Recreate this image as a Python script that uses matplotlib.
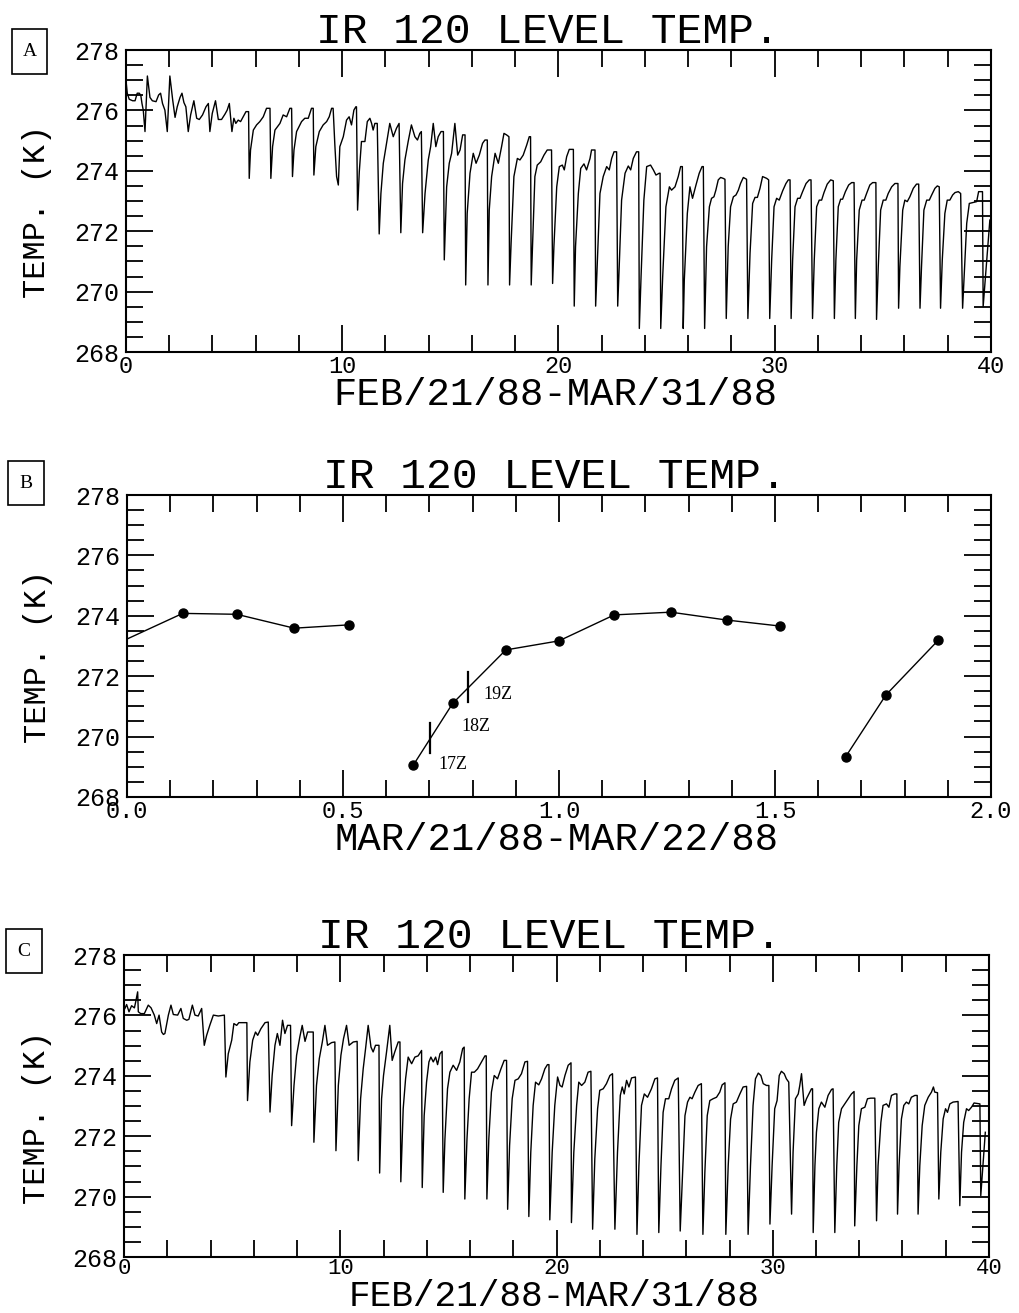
import matplotlib
matplotlib.use('Agg')
import matplotlib.pyplot as plt
from matplotlib.ticker import MultipleLocator
from matplotlib.patches import Rectangle

MONO = 'Liberation Mono'
SERIF = 'Liberation Serif'
plt.rcParams['font.family'] = [MONO, 'DejaVu Sans Mono']

TITLE = 'IR 120 LEVEL TEMP.'
YLABEL = 'TEMP. (K)'
XLABEL_AC = 'FEB/21/88-MAR/31/88'
XLABEL_B = 'MAR/21/88-MAR/22/88'
PANEL_LETTERS = ['A', 'B', 'C']

# panel A : days since Feb/21/88, temperature (K)
A_DAY = [
    0.00, 0.06, 0.15, 0.31, 0.42, 0.52, 0.62, 0.69, 0.74, 0.80, 0.88, 0.99,
    1.11, 1.22, 1.39, 1.51, 1.60, 1.69, 1.80, 1.91, 2.03, 2.16, 2.27, 2.37,
    2.50, 2.59, 2.68, 2.77, 2.88, 2.99, 3.14, 3.27, 3.39, 3.54, 3.70, 3.81,
    3.88, 3.99, 4.14, 4.27, 4.42, 4.58, 4.68, 4.78, 4.90, 4.99, 5.08, 5.19,
    5.30, 5.42, 5.55, 5.67,
    5.70, 5.76, 5.89, 6.04, 6.19, 6.35, 6.50, 6.66,
    6.70, 6.78, 6.89, 7.12, 7.27, 7.43, 7.58, 7.66,
    7.70, 7.77, 7.89, 8.12, 8.27, 8.43, 8.58, 8.66,
    8.69, 8.78, 8.94, 9.12, 9.28, 9.40, 9.51, 9.58, 9.66, 9.74,
    9.82, 9.89, 10.05, 10.20, 10.32, 10.43, 10.54, 10.63, 10.66,
    10.71, 10.79, 10.89, 11.05, 11.16, 11.28, 11.36, 11.43, 11.51, 11.62,
    11.71, 11.79, 11.90, 12.05, 12.20, 12.36, 12.51, 12.63,
    12.71, 12.79, 12.90, 13.05, 13.20, 13.36, 13.48, 13.59, 13.66,
    13.72, 13.83, 13.98, 14.09, 14.21, 14.33, 14.44, 14.57, 14.68,
    14.72, 14.83, 14.95, 15.06, 15.21, 15.34, 15.45, 15.57, 15.68,
    15.71, 15.78, 15.91, 16.06, 16.19, 16.34, 16.49, 16.60, 16.71,
    16.74, 16.80, 16.91, 17.07, 17.22, 17.37, 17.48, 17.60, 17.71,
    17.74, 17.81, 17.94, 18.10, 18.22, 18.37, 18.53, 18.65, 18.71,
    18.74, 18.81, 18.91, 19.02, 19.18, 19.33, 19.48, 19.68,
    19.73, 19.79, 19.92, 20.04, 20.18, 20.27, 20.38, 20.50, 20.69,
    20.73, 20.79, 20.92, 21.03, 21.18, 21.30, 21.46, 21.53, 21.69,
    21.72, 21.80, 21.92, 22.07, 22.23, 22.35, 22.46, 22.57, 22.69,
    22.74, 22.81, 22.92, 23.08, 23.23, 23.34, 23.46, 23.61, 23.71,
    23.74, 23.82, 23.95, 24.08, 24.26, 24.39, 24.51, 24.66, 24.70,
    24.73, 24.82, 24.97, 25.13, 25.23, 25.39, 25.54, 25.65, 25.73,
    25.77, 25.82, 25.96, 26.08, 26.20, 26.36, 26.51, 26.64, 26.70,
    26.76, 26.85, 26.98, 27.08, 27.19, 27.28, 27.39, 27.50, 27.62, 27.70,
    27.76, 27.85, 27.96, 28.09, 28.21, 28.32, 28.42, 28.55, 28.70,
    28.76, 28.86, 28.98, 29.09, 29.20, 29.32, 29.44, 29.63, 29.72,
    29.77, 29.86, 29.97, 30.09, 30.21, 30.37, 30.52, 30.63, 30.71,
    30.76, 30.83, 30.94, 31.06, 31.17, 31.29, 31.45, 31.60, 31.68,
    31.75, 31.83, 31.94, 32.06, 32.17, 32.28, 32.43, 32.59, 32.71,
    32.76, 32.83, 32.94, 33.05, 33.14, 33.27, 33.42, 33.56, 33.67,
    33.73, 33.79, 33.91, 34.04, 34.14, 34.25, 34.40, 34.53, 34.68,
    34.71, 34.79, 34.90, 35.02, 35.14, 35.25, 35.41, 35.56, 35.70,
    35.73, 35.79, 35.92, 36.02, 36.13, 36.25, 36.41, 36.56, 36.66,
    36.72, 36.79, 36.90, 37.03, 37.15, 37.26, 37.41, 37.52, 37.61,
    37.67, 37.75, 37.87, 37.98, 38.10, 38.23, 38.34, 38.49, 38.60,
    38.69, 38.88, 39.00, 39.34, 39.43, 39.61, 39.64, 39.95,
]
A_TEMP = [
    277.00, 276.57, 276.37, 276.32, 276.32, 276.57, 276.57, 276.48, 276.23, 276.01, 275.30, 277.14,
    276.43, 276.32, 276.29, 276.51, 276.57, 276.23, 276.01, 275.30, 277.14, 276.35, 275.77, 276.12,
    276.43, 276.57, 276.26, 276.12, 275.30, 275.85, 276.32, 275.74, 275.70, 275.85, 276.12, 276.23,
    275.30, 275.90, 276.32, 275.70, 275.70, 275.88, 276.01, 276.23, 275.30, 275.74, 275.57, 275.68,
    275.63, 275.79, 275.96, 275.96,
    273.75, 274.69, 275.35, 275.52, 275.63, 275.79, 276.07, 276.07,
    273.75, 274.80, 275.35, 275.57, 275.85, 275.79, 276.07, 276.07,
    273.81, 274.69, 275.30, 275.63, 275.74, 275.74, 276.07, 276.07,
    273.86, 274.80, 275.30, 275.52, 275.63, 275.79, 276.07, 276.07, 274.85, 273.81,
    273.53, 274.80, 275.13, 275.68, 275.79, 275.52, 276.01, 276.12, 276.12,
    272.70, 273.97, 274.97, 274.97, 275.63, 275.74, 275.57, 275.35, 275.57, 275.57,
    271.91, 273.25, 274.25, 274.91, 275.57, 275.13, 275.41, 275.57,
    271.95, 273.58, 274.36, 274.97, 275.52, 275.13, 275.02, 275.24, 275.30,
    271.95, 273.25, 274.36, 274.80, 275.57, 274.80, 275.13, 275.30, 275.30,
    271.05, 273.47, 274.25, 274.58, 275.57, 274.52, 274.69, 275.19, 275.19,
    270.22, 272.59, 273.92, 274.58, 274.25, 274.52, 274.91, 275.02, 275.02,
    270.22, 272.70, 273.81, 274.58, 274.25, 274.80, 275.24, 275.19, 275.13,
    270.22, 271.60, 273.81, 274.41, 274.36, 274.52, 274.85, 275.13, 275.13,
    270.22, 271.71, 273.81, 274.19, 274.30, 274.52, 274.69, 274.69,
    270.27, 271.49, 273.47, 274.14, 274.19, 274.03, 274.47, 274.71, 274.71,
    269.52, 271.49, 273.25, 274.08, 274.23, 274.03, 274.41, 274.69, 274.69,
    269.52, 271.05, 273.25, 273.81, 274.14, 274.03, 274.41, 274.63, 274.63,
    269.52, 270.83, 273.03, 273.92, 274.16, 274.03, 274.41, 274.63, 274.63,
    268.78, 270.49, 273.03, 274.14, 274.19, 274.03, 273.86, 273.92, 273.92,
    268.78, 270.49, 272.81, 273.47, 273.36, 273.47, 273.81, 274.14, 274.14,
    268.78, 270.38, 272.59, 273.47, 273.09, 273.53, 273.92, 274.14, 274.14,
    268.78, 271.49, 272.81, 273.09, 273.14, 273.36, 273.70, 273.78, 273.75, 273.72,
    269.11, 271.49, 272.81, 273.14, 273.20, 273.36, 273.58, 273.78, 273.72,
    269.11, 271.27, 272.92, 273.12, 273.12, 273.42, 273.81, 273.75, 273.70,
    269.11, 271.05, 272.81, 273.09, 273.03, 273.34, 273.58, 273.70, 273.70,
    269.11, 271.05, 272.81, 273.09, 273.09, 273.31, 273.58, 273.70, 273.70,
    269.11, 271.05, 272.81, 273.03, 273.03, 273.28, 273.56, 273.70, 273.67,
    269.11, 271.05, 272.81, 273.06, 273.06, 273.31, 273.53, 273.61, 273.61,
    269.11, 271.05, 272.70, 273.03, 273.03, 273.25, 273.53, 273.61, 273.61,
    269.08, 270.83, 272.70, 273.03, 273.03, 273.25, 273.47, 273.58, 273.58,
    269.45, 270.83, 272.70, 273.03, 272.98, 273.14, 273.42, 273.56, 273.56,
    269.45, 270.83, 272.70, 273.03, 273.03, 273.20, 273.42, 273.50, 273.47,
    269.45, 271.05, 272.59, 273.03, 273.03, 273.20, 273.28, 273.31, 273.25,
    269.45, 272.26, 272.92, 272.98, 273.31, 273.31, 269.50, 272.37,
]

# panel B : fraction of day since Mar/21/88 00Z
B_DAY_1 = [0.0, 0.129, 0.254, 0.387, 0.514]
B_TEMP_1 = [273.23, 274.08, 274.05, 273.59, 273.70]
B_DAY_2 = [0.663, 0.754, 0.877, 1.0, 1.128, 1.259, 1.388, 1.512]
B_TEMP_2 = [269.06, 271.10, 272.87, 273.17, 274.03, 274.12, 273.86, 273.66]
B_DAY_3 = [1.664, 1.757, 1.878]
B_TEMP_3 = [269.34, 271.38, 273.19]
HOUR_MARK_DAY = [0.701, 0.790]
HOUR_MARK_LOW = [269.46, 271.15]
HOUR_MARK_HIGH = [270.45, 272.14]
HOUR_LABELS = ['17Z', '18Z', '19Z']
HOUR_LABEL_DAY = [0.722, 0.775, 0.824]
HOUR_LABEL_TEMP = [269.06, 270.35, 271.38]

# panel C
C_DAY = [
    0.04, 0.12, 0.23, 0.35, 0.48, 0.54, 0.63, 0.66, 0.77, 0.94, 1.12, 1.25,
    1.40, 1.51, 1.62, 1.74, 1.82, 1.89, 2.05, 2.17, 2.28, 2.48, 2.63, 2.74,
    2.90, 3.00, 3.16, 3.28, 3.43, 3.59,
    3.71, 3.82, 3.97, 4.13, 4.36, 4.64,
    4.71, 4.82, 4.98, 5.08, 5.21, 5.31, 5.68,
    5.71, 5.82, 5.95, 6.08, 6.18, 6.33, 6.52, 6.67,
    6.75, 6.85, 6.98, 7.09, 7.21, 7.33, 7.44, 7.56, 7.70,
    7.75, 7.86, 7.98, 8.13, 8.24, 8.37, 8.49, 8.75,
    8.78, 8.90, 9.03, 9.17, 9.29, 9.41, 9.60, 9.75,
    9.80, 9.91, 10.03, 10.15, 10.29, 10.41, 10.60, 10.78,
    10.83, 10.94, 11.06, 11.17, 11.29, 11.42, 11.52, 11.63, 11.79,
    11.82, 11.91, 12.00, 12.14, 12.29, 12.40, 12.52, 12.68, 12.76,
    12.80, 12.91, 13.02, 13.14, 13.30, 13.45, 13.60, 13.76,
    13.79, 13.88, 13.99, 14.10, 14.19, 14.30, 14.41, 14.50, 14.61, 14.71,
    14.76, 14.84, 14.96, 15.07, 15.22, 15.38, 15.53, 15.66, 15.73,
    15.76, 15.86, 15.96, 16.07, 16.20, 16.35, 16.53, 16.69, 16.75,
    16.78, 16.87, 16.99, 17.12, 17.27, 17.43, 17.58, 17.69,
    17.74, 17.83, 17.95, 18.08, 18.23, 18.38, 18.54, 18.66,
    18.72, 18.81, 18.92, 19.03, 19.18, 19.31, 19.46, 19.58, 19.65,
    19.69, 19.80, 19.92, 20.05, 20.16, 20.26, 20.39, 20.54, 20.67,
    20.69, 20.80, 20.93, 21.03, 21.16, 21.31, 21.46, 21.59,
    21.67, 21.77, 21.90, 22.00, 22.16, 22.31, 22.47, 22.59,
    22.70, 22.82, 22.95, 23.04, 23.13, 23.24, 23.35, 23.47, 23.65,
    23.72, 23.81, 23.93, 24.06, 24.21, 24.39, 24.55, 24.67,
    24.73, 24.83, 24.93, 25.04, 25.19, 25.32, 25.47, 25.63,
    25.72, 25.83, 25.94, 26.06, 26.17, 26.27, 26.40, 26.55, 26.70,
    26.77, 26.86, 26.97, 27.09, 27.24, 27.40, 27.55, 27.66, 27.79,
    27.83, 27.94, 28.05, 28.17, 28.32, 28.48, 28.63, 28.79,
    28.86, 28.97, 29.09, 29.20, 29.33, 29.45, 29.56, 29.71, 29.82,
    29.87, 29.97, 30.09, 30.20, 30.30, 30.40, 30.53, 30.63, 30.74,
    30.87, 30.94, 31.05, 31.18, 31.25, 31.33, 31.45, 31.56, 31.79, 31.84,
    31.87, 31.95, 32.02, 32.13, 32.25, 32.41, 32.56, 32.72, 32.79,
    32.87, 32.96, 33.05, 33.18, 33.33, 33.49, 33.64, 33.76,
    33.79, 33.89, 33.98, 34.10, 34.26, 34.38, 34.53, 34.72,
    34.80, 34.87, 35.00, 35.10, 35.26, 35.37, 35.49, 35.64, 35.74,
    35.77, 35.84, 35.95, 36.06, 36.18, 36.29, 36.41, 36.57, 36.68,
    36.72, 36.80, 36.91, 37.03, 37.19, 37.34, 37.43, 37.49, 37.62,
    37.68, 37.77, 37.88, 37.99, 38.08, 38.19, 38.34, 38.57,
    38.65, 38.73, 38.83, 38.96, 39.06, 39.19, 39.31, 39.58,
    39.62, 39.83,
]
C_TEMP = [
    276.23, 276.36, 276.12, 276.32, 276.25, 276.45, 276.78, 276.12, 276.06, 276.06, 276.34, 276.25,
    276.01, 275.73, 276.01, 275.45, 275.37, 275.40, 276.01, 276.34, 276.03, 276.01, 276.23, 275.90,
    275.84, 275.87, 276.34, 276.01, 275.98, 276.23,
    275.01, 275.34, 275.68, 276.01, 275.98, 276.01,
    273.96, 274.73, 275.18, 275.73, 275.67, 275.76, 275.76,
    273.18, 274.46, 275.18, 275.45, 275.34, 275.56, 275.76, 275.78,
    272.80, 274.01, 275.01, 275.40, 275.01, 275.84, 275.40, 275.67, 275.67,
    272.35, 273.68, 274.68, 275.29, 275.67, 275.14, 275.45, 275.45,
    271.80, 273.68, 274.57, 275.12, 275.67, 275.01, 275.10, 275.12,
    271.52, 273.68, 274.68, 275.23, 275.67, 275.01, 275.12, 275.14,
    271.19, 273.24, 274.23, 274.90, 275.67, 274.95, 274.79, 275.01, 275.01,
    270.78, 273.24, 274.01, 274.79, 275.67, 274.51, 274.79, 275.12, 275.12,
    270.49, 272.91, 273.90, 274.62, 274.40, 274.62, 274.66, 274.84,
    270.30, 272.68, 273.79, 274.46, 274.62, 274.46, 274.62, 274.37, 274.73, 274.81,
    270.14, 271.91, 273.57, 274.12, 274.35, 274.18, 274.46, 274.90, 274.95,
    269.92, 271.91, 273.24, 274.12, 274.12, 274.23, 274.46, 274.66, 274.66,
    269.92, 271.91, 273.46, 274.01, 273.90, 274.23, 274.51, 274.51,
    269.58, 271.69, 273.24, 273.85, 273.90, 274.07, 274.46, 274.48,
    269.34, 271.47, 273.02, 273.79, 273.70, 273.90, 274.23, 274.37, 274.37,
    269.23, 271.47, 273.02, 273.96, 273.68, 273.63, 274.01, 274.35, 274.43,
    269.14, 271.47, 273.02, 273.79, 273.68, 273.79, 274.12, 274.15,
    268.92, 271.24, 272.91, 273.52, 273.57, 273.74, 274.01, 274.07,
    268.92, 271.47, 273.35, 273.63, 273.40, 273.85, 273.63, 273.93, 273.96,
    268.75, 271.02, 273.02, 273.40, 273.29, 273.57, 273.90, 273.93,
    268.81, 271.02, 272.79, 273.24, 273.24, 273.57, 273.85, 273.93,
    268.86, 270.80, 272.68, 273.13, 273.29, 273.24, 273.46, 273.68, 273.74,
    268.75, 270.80, 272.68, 273.18, 273.24, 273.29, 273.46, 273.70, 273.77,
    268.75, 271.02, 272.57, 273.07, 273.13, 273.40, 273.63, 273.65,
    268.75, 271.02, 273.02, 273.90, 274.09, 274.01, 273.74, 273.68, 273.68,
    269.09, 271.02, 272.91, 273.18, 274.01, 274.15, 274.07, 273.90, 273.79,
    269.42, 271.47, 273.24, 273.40, 273.68, 274.07, 273.02, 273.24, 273.57, 273.57,
    268.81, 271.02, 272.13, 272.91, 273.13, 272.96, 273.35, 273.55, 273.57,
    268.81, 271.02, 272.46, 272.91, 273.07, 273.24, 273.40, 273.48,
    269.03, 271.02, 272.35, 272.91, 272.96, 273.24, 273.26, 273.26,
    269.20, 271.02, 272.46, 273.02, 273.07, 272.96, 273.35, 273.40, 273.40,
    269.42, 271.02, 272.57, 273.02, 273.13, 273.07, 273.29, 273.35, 273.35,
    269.42, 271.02, 272.35, 273.02, 273.29, 273.46, 273.63, 273.46, 273.44,
    269.92, 271.47, 272.57, 272.91, 272.79, 273.07, 273.13, 273.15,
    269.70, 271.47, 272.46, 272.91, 272.85, 272.96, 273.10, 273.07,
    270.03, 272.13,
]


def estilo_eixo(ax, xmax, xmaior, xmenor, fmt, xsize=17, xpad=2):
    ax.set_xlim(0, xmax)
    ax.set_ylim(268, 278)
    ax.xaxis.set_major_locator(MultipleLocator(xmaior))
    ax.xaxis.set_minor_locator(MultipleLocator(xmenor))
    ax.yaxis.set_major_locator(MultipleLocator(2))
    ax.yaxis.set_minor_locator(MultipleLocator(0.5))
    ax.xaxis.set_major_formatter(plt.FuncFormatter(lambda v, p: fmt % v))
    ax.tick_params(which='both', direction='in', top=True, right=True,
                   width=1.3)
    ax.tick_params(axis='x', pad=xpad, labelsize=xsize)
    ax.tick_params(axis='y', pad=5, labelsize=18)
    ax.tick_params(which='major', length=19.5)
    ax.tick_params(which='minor', length=12.5)
    for s in ax.spines.values():
        s.set_linewidth(1.5)


def textos(ax, xlabel, tx, xy, yx, yy, xsize=28):
    # titulo, rotulo x (pela linha de base) e rotulo y
    ax.text(tx, 1.023, TITLE, transform=ax.transAxes, ha='center',
            va='baseline', fontsize=31)
    ax.text(0.497, xy, xlabel, transform=ax.transAxes, ha='center',
            va='baseline', fontsize=xsize)
    ax.text(yx, yy, YLABEL, transform=ax.transAxes, ha='center',
            va='center', rotation=90, fontsize=23)


def caixa(fig, letra, x0, y0, x1, y1):
    W, H = 1020.0, 1313.0
    fig.patches.append(Rectangle((x0 / W, 1 - y1 / H), (x1 - x0) / W,
                                 (y1 - y0) / H, transform=fig.transFigure,
                                 fill=False, lw=1.2, color='black'))
    fig.text((x0 + x1) / 2 / W, 1 - (y0 + y1) / 2 / H, letra,
             ha='center', va='center', fontsize=14, family=SERIF)


fig = plt.figure(figsize=(10.2, 13.13), dpi=100)

axA = fig.add_axes([0.1235, 0.7319, 0.848, 0.2300])
axA.plot(A_DAY, A_TEMP, color='black', lw=1.0)
estilo_eixo(axA, 40, 10, 2, '%d')
textos(axA, XLABEL_AC, 0.488, -0.1755, -0.1025, 0.467)

axB = fig.add_axes([0.1245, 0.3930, 0.847, 0.2300])
axB.plot(B_DAY_1, B_TEMP_1, color='black', lw=1.0, marker='o', ms=6.5,
         markevery=list(range(1, len(B_DAY_1))))
axB.plot(B_DAY_2, B_TEMP_2, color='black', lw=1.0, marker='o', ms=6.5)
axB.plot(B_DAY_3, B_TEMP_3, color='black', lw=1.0, marker='o', ms=6.5)
for d, lo, hi in zip(HOUR_MARK_DAY, HOUR_MARK_LOW, HOUR_MARK_HIGH):
    axB.plot([d, d], [lo, hi], color='black', lw=1.6)
for lab, d, t in zip(HOUR_LABELS, HOUR_LABEL_DAY, HOUR_LABEL_TEMP):
    axB.text(d, t, lab, ha='left', va='center', fontsize=13, family=SERIF)
estilo_eixo(axB, 2.0, 0.5, 0.1, '%.1f')
textos(axB, XLABEL_B, 0.495, -0.1755, -0.103, 0.467)

axC = fig.add_axes([0.1216, 0.04265, 0.848, 0.2300])
axC.plot(C_DAY, C_TEMP, color='black', lw=1.0)
estilo_eixo(axC, 40, 10, 2, '%d', xsize=16, xpad=1)
textos(axC, XLABEL_AC, 0.492, -0.1615, -0.101, 0.464, xsize=26)

caixa(fig, PANEL_LETTERS[0], 12, 29, 47, 74)
caixa(fig, PANEL_LETTERS[1], 8, 461, 44, 505)
caixa(fig, PANEL_LETTERS[2], 6, 929, 42, 973)

fig.savefig('out.png', dpi=100)
